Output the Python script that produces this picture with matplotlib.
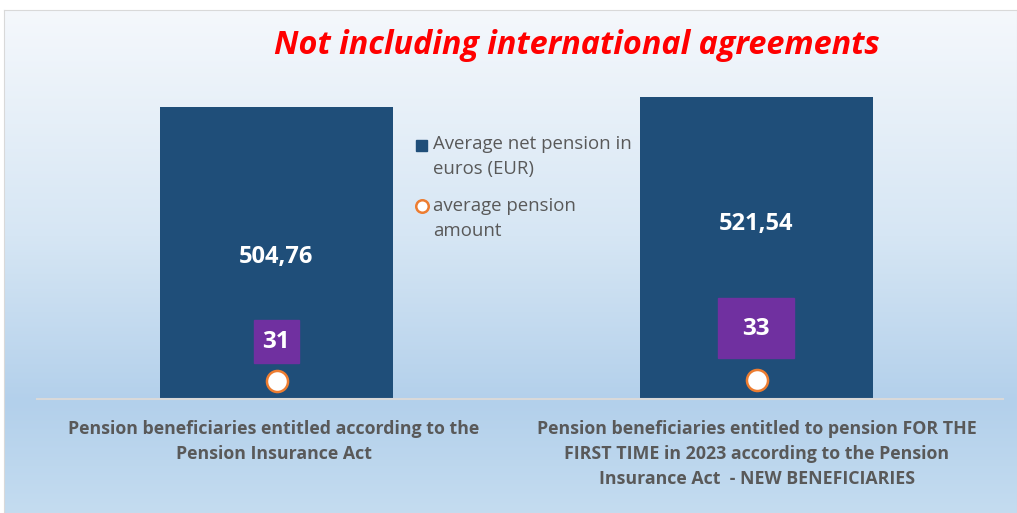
import numpy as np
import matplotlib.pyplot as plt
from matplotlib.colors import LinearSegmentedColormap

categories = ["Pension beneficiaries entitled according to the\nPension Insurance Act",
              "Pension beneficiaries entitled to pension FOR THE\nFIRST TIME in 2023 according to the Pension\nInsurance Act  - NEW BENEFICIARIES"]
net_pension = [504.76, 521.54]
net_labels = ["504,76", "521,54"]
avg_amount = [31, 33]

title = "Not including international agreements"
series_names = ["Average net pension in\neuros (EUR)", "average pension\namount"]

W, H = 1017, 513
fig = plt.figure(figsize=(W / 100, H / 100), dpi=100)

# gradient background panel
bg = fig.add_axes([4 / W, 0, 1 - 4 / W, 1 - 10 / H])
cmap = LinearSegmentedColormap.from_list("bg", [(0, "#f5f8fc"), (0.45, "#d6e6f4"),
                                                (0.78, "#b3d0eb"), (1, "#c4dcf0")])
bg.imshow(np.linspace(0, 1, 256).reshape(-1, 1), aspect="auto", cmap=cmap,
          extent=[0, 1, 0, 1], origin="upper")
bg.set_xlim(0, 1)
bg.set_ylim(0, 1)
for s in bg.spines.values():
    s.set_color("#d9d9d9")
bg.set_xticks([])
bg.set_yticks([])

# main axes: baseline at y=399 px, 1.728 units per px
base_px = 399
scale = 1.728
ax_bottom = (H - base_px) / H
ax_top_px = 20
ax = fig.add_axes([36.5 / W, ax_bottom, (1003 - 36.5) / W, (base_px - ax_top_px) / H])
ax.patch.set_alpha(0)
ax.set_ylim(0, (base_px - ax_top_px) * scale)
ax.set_xlim(-0.5, 1.5 + 6.5 / 480)
x = np.arange(len(categories))
ax.bar(x, net_pension, width=0.485, color="#1f4e79", zorder=2)
ax.scatter(x, avg_amount, s=230, facecolor="white", edgecolor="#ed7d31", linewidth=1.8, zorder=4)

label_frac = [0.485, 0.58]
for i in x:
    ax.text(i, net_pension[i] * label_frac[i], net_labels[i],
            ha="center", va="center", color="white", fontsize=17, fontweight="bold",
            family="Open Sans")

# purple data-label boxes for the circle series
box_px = [(276, 341, 45, 43), (756, 328, 76, 60)]
for i, (cx, cy, bw, bh) in enumerate(box_px):
    fig.patches.append(plt.Rectangle(((cx - bw / 2) / W, 1 - (cy + bh / 2) / H), bw / W, bh / H,
                                     transform=fig.transFigure, color="#7030a0", zorder=5))
    fig.text(cx / W, 1 - (cy + 1) / H, str(avg_amount[i]), ha="center", va="center", color="white",
             fontsize=17.5, fontweight="bold", family="Open Sans", zorder=6)

for s in ["left", "right", "top"]:
    ax.spines[s].set_visible(False)
ax.spines["bottom"].set_color("#d9d9d9")
ax.spines["bottom"].set_linewidth(1.5)
ax.set_yticks([])
ax.set_xticks([])

# category labels
label_centers = [274, 757]
for i, cx in enumerate(label_centers):
    fig.text(cx / W, 1 - 420 / H, categories[i], ha="center", va="top", color="#595959",
             fontsize=12.8, fontweight="bold", family="Open Sans", linespacing=1.5)

# title
fig.text(577 / W, 1 - 46 / H, title, ha="center", va="center", color="#ff0000",
         fontsize=23.3, fontweight="bold", style="italic", family="Open Sans")

# legend
fig.patches.append(plt.Rectangle((416 / W, 1 - 151 / H), 11 / W, 11 / H,
                                 transform=fig.transFigure, color="#1f4e79"))
fig.text(433 / W, 1 - 135 / H, series_names[0], ha="left", va="top", color="#595959",
         fontsize=13.4, family="Open Sans", linespacing=1.5)
fig.add_artist(plt.Line2D([422 / W], [1 - 206 / H], marker="o", markersize=9,
                          markerfacecolor="white", markeredgecolor="#ed7d31",
                          markeredgewidth=1.8, transform=fig.transFigure))
fig.text(433 / W, 1 - 197 / H, series_names[1], ha="left", va="top", color="#595959",
         fontsize=13.4, family="Open Sans", linespacing=1.5)

fig.savefig("out.png", dpi=100)
